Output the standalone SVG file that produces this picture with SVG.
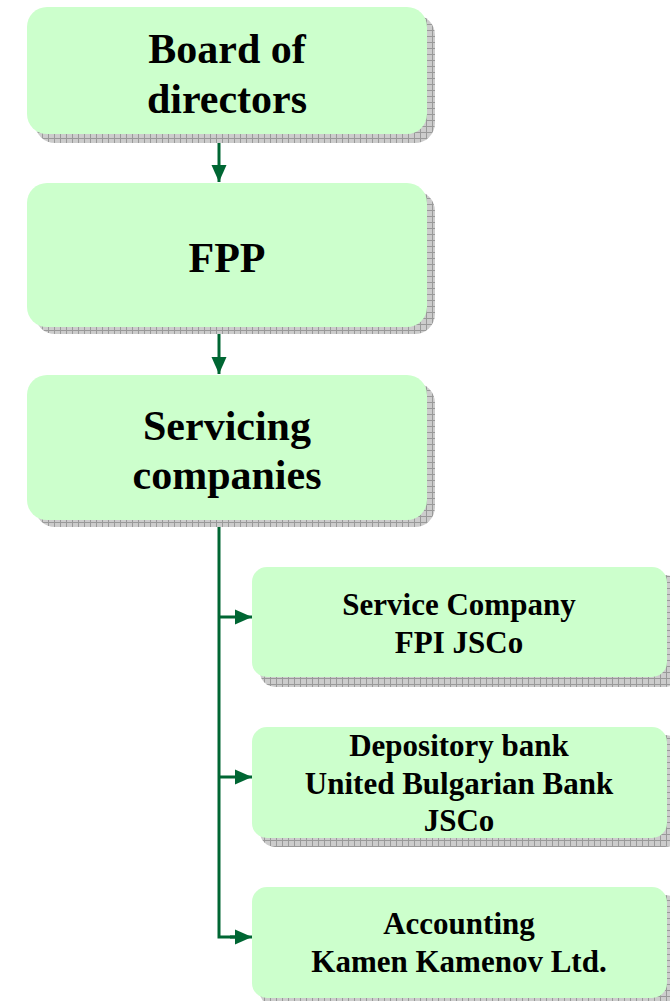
<svg xmlns="http://www.w3.org/2000/svg" width="670" height="1001" viewBox="0 0 670 1001">
<style>
.box{fill:#CCFFCC;}
.shadow{fill:url(#grid);}
.big{font-family:"Liberation Serif","Times New Roman",serif;font-weight:bold;font-size:42px;text-anchor:middle;fill:#000;}
.small{font-family:"Liberation Serif","Times New Roman",serif;font-weight:bold;font-size:31px;text-anchor:middle;fill:#000;}
.conn{stroke:#006633;stroke-width:3;fill:none;}
</style>
<defs>
<pattern id="grid" width="6" height="6" patternUnits="userSpaceOnUse">
<rect width="6" height="6" fill="#cccccc"/>
<path d="M0 0.5H6M0.5 0V6" stroke="#999999" stroke-width="1"/>
</pattern>
<marker id="arr" markerWidth="18" markerHeight="16" refX="17" refY="8" orient="auto" markerUnits="userSpaceOnUse">
<path d="M0,0.5 L17,8 L0,15.5 z" fill="#006633"/>
</marker>
</defs>
<g id="connectors">
<line class="conn" x1="219" y1="135" x2="219" y2="182" marker-end="url(#arr)"/>
<line class="conn" x1="219" y1="327" x2="219" y2="374" marker-end="url(#arr)"/>
<path class="conn" d="M219 520V937H240"/>
<line class="conn" x1="219" y1="617" x2="252" y2="617" marker-end="url(#arr)"/>
<line class="conn" x1="219" y1="777" x2="252" y2="777" marker-end="url(#arr)"/>
<line class="conn" x1="230" y1="937" x2="252" y2="937" marker-end="url(#arr)"/>
</g>
<g id="board">
<rect class="shadow" x="35" y="15" width="400" height="128" rx="20"/>
<rect class="box" x="27" y="7" width="400" height="127" rx="20"/>
<text class="big" x="227" y="63">Board of</text>
<text class="big" x="227" y="113">directors</text>
</g>
<g id="fpp">
<rect class="shadow" x="35" y="191" width="400" height="143" rx="20"/>
<rect class="box" x="27" y="183" width="400" height="144" rx="20"/>
<text class="big" x="227" y="272">FPP</text>
</g>
<g id="servicing">
<rect class="shadow" x="35" y="383" width="400" height="144" rx="20"/>
<rect class="box" x="27" y="375" width="400" height="145" rx="20"/>
<text class="big" x="227" y="440">Servicing</text>
<text class="big" x="227" y="489">companies</text>
</g>
<g id="service-company">
<rect class="shadow" x="260" y="575" width="420" height="112" rx="15"/>
<rect class="box" x="252" y="567" width="415" height="110" rx="15"/>
<text class="small" x="459" y="615">Service Company</text>
<text class="small" x="459" y="653">FPI JSCo</text>
</g>
<g id="depository">
<rect class="shadow" x="260" y="735" width="420" height="112" rx="15"/>
<rect class="box" x="252" y="727" width="415" height="111" rx="15"/>
<text class="small" x="459" y="756">Depository bank</text>
<text class="small" x="459" y="794">United Bulgarian Bank</text>
<text class="small" x="459" y="831">JSCo</text>
</g>
<g id="accounting">
<rect class="shadow" x="260" y="895" width="420" height="112" rx="15"/>
<rect class="box" x="252" y="887" width="415" height="111" rx="15"/>
<text class="small" x="459" y="934">Accounting</text>
<text class="small" x="459" y="972">Kamen Kamenov Ltd.</text>
</g>
</svg>
